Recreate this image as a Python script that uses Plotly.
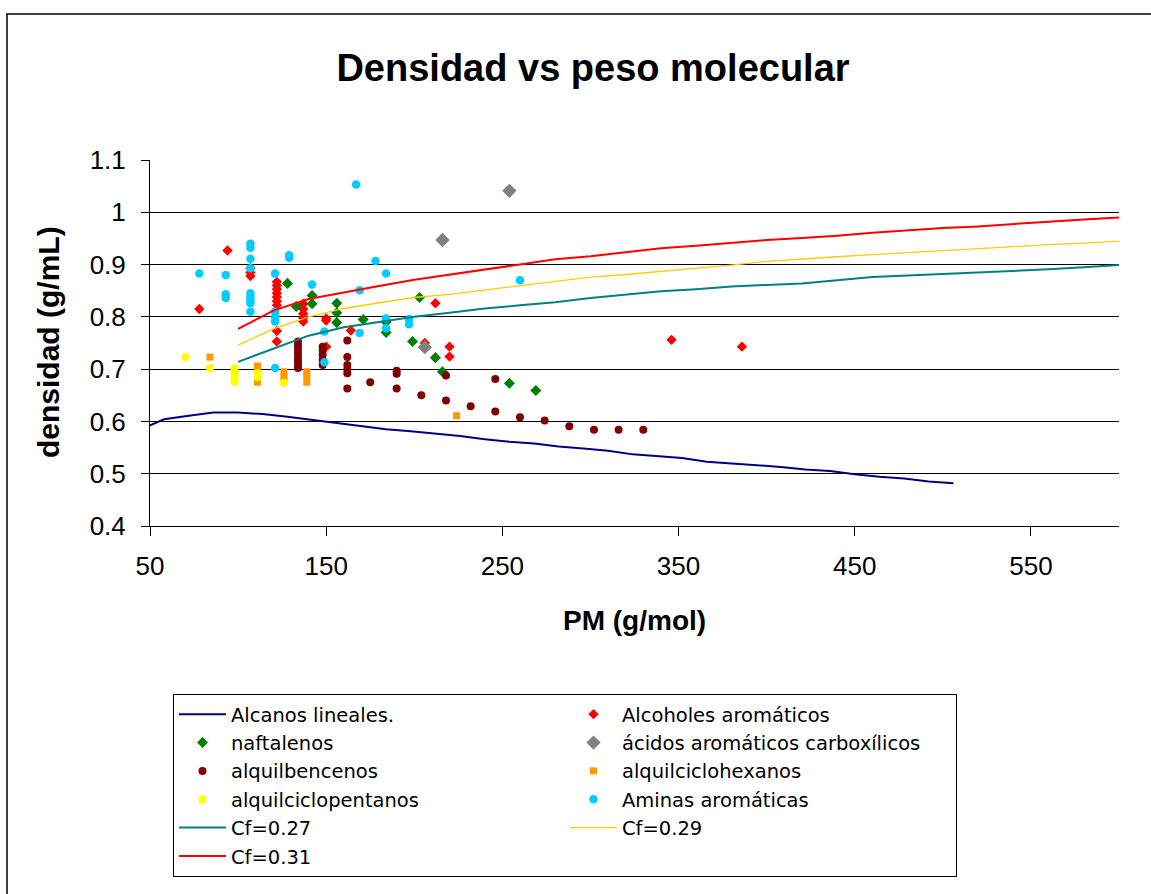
import plotly.graph_objects as go

# ---- data -----------------------------------------------------------------
# Alcanos lineales (curve)
alc_x = [44, 58, 72, 86, 100, 114, 128, 142, 156, 170, 184, 198, 212, 226, 240, 254, 268,
         282, 296, 310, 324, 338, 352, 366, 380, 394, 408, 422, 436, 450, 464, 478, 492, 506]
alc_y = [0.584, 0.604, 0.611, 0.617, 0.617, 0.614, 0.609, 0.603, 0.597, 0.592, 0.585, 0.581,
         0.577, 0.572, 0.566, 0.561, 0.558, 0.552, 0.548, 0.544, 0.537, 0.533, 0.530, 0.523,
         0.520, 0.516, 0.513, 0.508, 0.505, 0.499, 0.494, 0.491, 0.485, 0.482]

# Alcoholes aromáticos
oh_x = [78, 94, 107, 107, 107, 122, 122, 122, 122, 122, 122, 122, 122, 122,
        137, 137, 137, 137, 137, 150, 150, 150, 164, 206, 212, 220, 220, 346, 386]
oh_y = [0.815, 0.927, 0.893, 0.885, 0.878, 0.867, 0.860, 0.853, 0.845, 0.838, 0.830, 0.822,
        0.773, 0.753, 0.825, 0.815, 0.806, 0.798, 0.791, 0.797, 0.793, 0.743, 0.774, 0.750,
        0.826, 0.743, 0.724, 0.756, 0.743]

# naftalenos
naf_x = [128, 133, 142, 142, 156, 156, 156, 171, 184, 184, 199, 203, 212, 216, 254, 269]
naf_y = [0.864, 0.820, 0.841, 0.825, 0.826, 0.808, 0.789, 0.795, 0.790, 0.770, 0.753,
         0.837, 0.722, 0.695, 0.673, 0.659]

# ácidos aromáticos carboxílicos
acid_x = [216, 254, 206]
acid_y = [0.947, 1.041, 0.742]

# alquilbencenos
ab_x = [134, 134, 134, 134, 134, 134, 134, 134, 148, 148, 148, 148, 148,
        162, 162, 162, 162, 162, 162, 175, 190, 190, 190, 204, 218, 218, 232,
        246, 246, 260, 274, 288, 302, 316, 330]
ab_y = [0.753, 0.745, 0.738, 0.730, 0.722, 0.715, 0.708, 0.702, 0.743, 0.735, 0.727, 0.718,
        0.708, 0.755, 0.723, 0.708, 0.700, 0.692, 0.663, 0.675, 0.697, 0.691, 0.663, 0.650,
        0.688, 0.640, 0.629, 0.681, 0.619, 0.608, 0.602, 0.591, 0.584, 0.584, 0.584]

# alquilciclohexanos
ach_x = [84, 111, 111, 111, 111, 126, 126, 126, 139, 139, 139, 224]
ach_y = [0.723, 0.706, 0.695, 0.685, 0.675, 0.695, 0.685, 0.675, 0.695, 0.685, 0.675, 0.611]

# alquilciclopentanos
acp_x = [70, 84, 98, 98, 98, 98, 98, 111, 111, 126]
acp_y = [0.723, 0.702, 0.702, 0.695, 0.688, 0.681, 0.676, 0.692, 0.685, 0.674]

# Aminas aromáticas
am_x = [78, 93, 93, 93, 107, 107, 107, 107, 107, 107, 107, 107, 107, 121, 121, 121, 121, 121,
        129, 129, 142, 149, 149, 167, 169, 169, 178, 184, 184, 184, 197, 197, 260]
am_y = [0.883, 0.880, 0.843, 0.836, 0.940, 0.932, 0.911, 0.893, 0.845, 0.838, 0.832, 0.826,
        0.810, 0.883, 0.810, 0.800, 0.791, 0.702, 0.918, 0.913, 0.862, 0.772, 0.713, 1.053,
        0.851, 0.769, 0.907, 0.883, 0.797, 0.778, 0.796, 0.786, 0.870]

# Cf curves
cf_x = [100, 120, 140, 160, 180, 200, 220, 240, 260, 280, 300, 320, 340, 360, 380, 400,
        420, 440, 460, 480, 500, 520, 540, 560, 580, 600]
cf27_y = [0.714, 0.739, 0.764, 0.780, 0.790, 0.800, 0.808, 0.816, 0.822, 0.828, 0.836, 0.843,
          0.849, 0.853, 0.858, 0.861, 0.864, 0.870, 0.876, 0.879, 0.882, 0.884, 0.887, 0.891,
          0.895, 0.899]
cf29_y = [0.746, 0.777, 0.800, 0.816, 0.827, 0.837, 0.843, 0.851, 0.859, 0.868, 0.876, 0.881,
          0.887, 0.892, 0.899, 0.906, 0.911, 0.915, 0.919, 0.923, 0.927, 0.930, 0.934, 0.938,
          0.941, 0.945]
cf31_y = [0.777, 0.812, 0.834, 0.847, 0.859, 0.871, 0.881, 0.891, 0.900, 0.910, 0.916, 0.924,
          0.931, 0.936, 0.942, 0.947, 0.951, 0.955, 0.961, 0.966, 0.970, 0.973, 0.978, 0.982,
          0.986, 0.990]

y_ticks = [0.4, 0.5, 0.6, 0.7, 0.8, 0.9, 1.0, 1.1]
y_tick_text = ["0.4", "0.5", "0.6", "0.7", "0.8", "0.9", "1", "1.1"]
x_ticks = [50, 150, 250, 350, 450, 550]

FONT = "Liberation Sans, Arial, sans-serif"

fig = go.Figure()


def pts(name, x, y, symbol, color, size):
    fig.add_trace(go.Scatter(x=x, y=y, name=name, mode="markers",
                             marker=dict(symbol=symbol, color=color, size=size,
                                         line=dict(width=0))))


def curve(name, x, y, color, width):
    fig.add_trace(go.Scatter(x=x, y=y, name=name, mode="lines",
                             line=dict(color=color, width=width)))


curve("Alcanos lineales.", alc_x, alc_y, "#000080", 2)
pts("Alcoholes aromáticos", oh_x, oh_y, "diamond", "#FF0000", 8)
pts("naftalenos", naf_x, naf_y, "diamond", "#008000", 8.5)
pts("ácidos aromáticos carboxílicos", acid_x, acid_y, "diamond", "#808080", 11)
pts("alquilbencenos", ab_x, ab_y, "circle", "#800000", 8)
pts("alquilciclohexanos", ach_x, ach_y, "square", "#FF9900", 7)
pts("alquilciclopentanos", acp_x, acp_y, "circle", "#FFFF00", 8)
pts("Aminas aromáticas", am_x, am_y, "circle", "#00CCFF", 8.5)
curve("Cf=0.27", cf_x, cf27_y, "#008080", 2)
curve("Cf=0.29", cf_x, cf29_y, "#FFCC00", 1.3)
curve("Cf=0.31", cf_x, cf31_y, "#FF0000", 2)

W, H = 1151, 894
L, R, T, B = 150, 32, 160, 368
pw, ph = W - L - R, H - T - B


def px(xp):
    return (xp - L) / pw


def py(yp):
    return (H - B - yp) / ph


fig.update_layout(
    width=W, height=H,
    margin=dict(l=L, r=R, t=T, b=B, autoexpand=False),
    paper_bgcolor="white", plot_bgcolor="white",
    font=dict(family=FONT, color="black"),
    title=dict(text="Densidad vs peso molecular", x=593 / W, xref="container",
               xanchor="center", y=1 - 68 / H, yref="container", yanchor="middle",
               font=dict(size=38, weight="bold", family=FONT)),
    xaxis=dict(range=[50, 600], tickvals=x_ticks, showgrid=False, zeroline=False,
               showline=True, linecolor="black", linewidth=1, ticks="outside",
               ticklen=9, tickcolor="black", tickfont=dict(size=26),
               ticklabelstandoff=8),
    yaxis=dict(range=[0.4, 1.1], tickvals=y_ticks, ticktext=y_tick_text,
               showgrid=True, gridcolor="black", gridwidth=1, zeroline=False,
               showline=True, linecolor="black", linewidth=1, ticks="outside",
               ticklen=8, tickcolor="black", tickfont=dict(size=26),
               ticklabelstandoff=10),
    legend=dict(orientation="h", x=px(173), xanchor="left", y=py(694), yanchor="top",
                bordercolor="black", borderwidth=1, bgcolor="white",
                font=dict(size=19.5, family="DejaVu Sans, sans-serif"),
                itemwidth=47, entrywidth=329, traceorder="normal"),
    annotations=[
        dict(text="PM (g/mol)", x=px(634), y=py(620), xref="paper", yref="paper",
             xanchor="center", yanchor="middle",
             showarrow=False, font=dict(size=28, weight="bold", family=FONT)),
        dict(text="densidad (g/mL)", x=px(48), y=py(342), xref="paper", yref="paper",
             xanchor="center", yanchor="middle",
             showarrow=False, textangle=-90, font=dict(size=30, weight="bold", family=FONT)),
    ],
    shapes=[
        dict(type="rect", xref="paper", yref="paper", x0=px(7), x1=px(1165),
             y0=py(905), y1=py(14), line=dict(color="black", width=1.5),
             fillcolor="rgba(0,0,0,0)", layer="below"),
    ],
)

fig.write_html("out.html")
